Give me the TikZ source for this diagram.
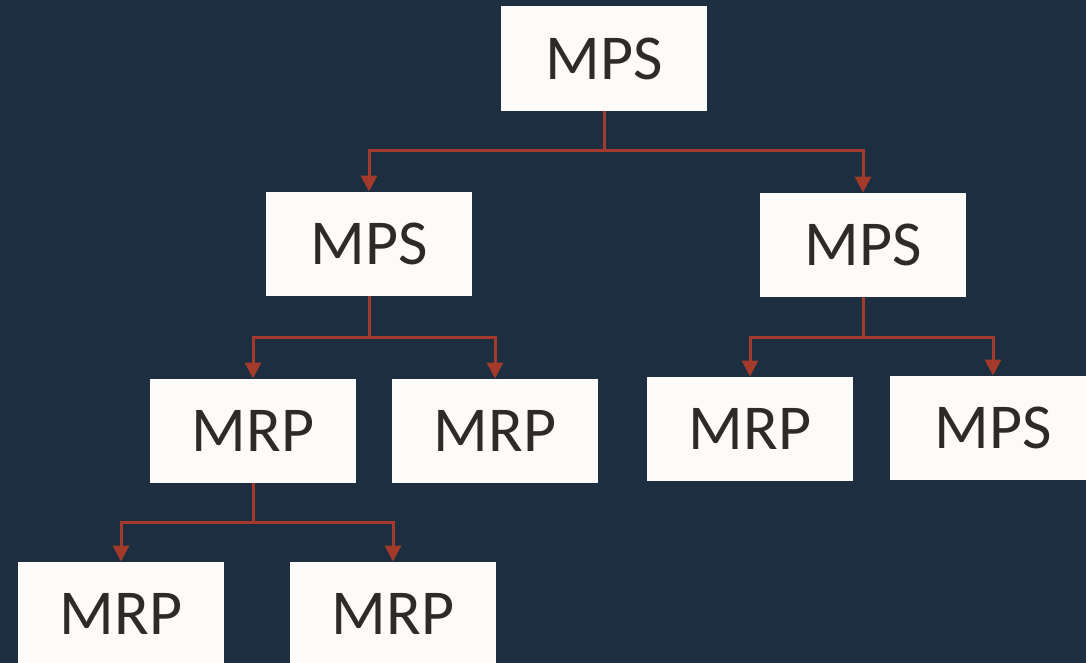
\documentclass[tikz,border=0pt]{standalone}
\usepackage{fontspec}
\setmainfont{Carlito}
\usetikzlibrary{arrows.meta}
\definecolor{bgnavy}{HTML}{1C2E40}
\definecolor{boxfill}{HTML}{FCFBFA}
\definecolor{txtdark}{HTML}{2E2A27}
\definecolor{linered}{HTML}{A33A2A}
\tikzset{
  box/.style={fill=boxfill, draw=none, minimum width=206pt, minimum height=104.5pt,
    inner sep=0pt, text=txtdark, font=\fontsize{64}{70}\selectfont,
    text height=41.4pt, text depth=0pt, anchor=center},
  conn/.style={draw=linered, line width=3pt,
    -{Triangle[width=16pt,length=16pt]}},
  trunk/.style={draw=linered, line width=3pt}
}
\begin{document}
\begin{tikzpicture}[x=1pt,y=-1pt]
\useasboundingbox (0,0) rectangle (1086,663);
\clip (0,0) rectangle (1086,663);
\fill[bgnavy] (0,0) rectangle (1086,663);
\node[box] (top) at (604,58.5) {MPS};
\node[box] (L) at (369,244) {MPS};
\node[box] (R) at (863,245) {MPS};
\node[box] (LL) at (253,431) {MRP};
\node[box] (LR) at (495,431) {MRP};
\node[box] (RL) at (750,429) {MRP};
\node[box] (RR) at (993,428) {MPS};
\node[box] (LLL) at (121,614) {MRP};
\node[box] (LLR) at (393,614) {MRP};
% top level
\draw[trunk] (top.south) -- (top.south |- 0,151);
\draw[conn] (top.south |- 0,151) -| (L.north);
\draw[conn] (top.south |- 0,151) -| (R.north);
% left MPS
\draw[trunk] (L.south) -- (L.south |- 0,337.5);
\draw[conn] (L.south |- 0,337.5) -| (LL.north);
\draw[conn] (L.south |- 0,337.5) -| (LR.north);
% right MPS
\draw[trunk] (R.south) -- (R.south |- 0,337);
\draw[conn] (R.south |- 0,337) -| (RL.north);
\draw[conn] (R.south |- 0,337) -| (RR.north);
% left MRP
\draw[trunk] (LL.south) -- (LL.south |- 0,522);
\draw[conn] (LL.south |- 0,522) -| (LLL.north);
\draw[conn] (LL.south |- 0,522) -| (LLR.north);
\end{tikzpicture}
\end{document}
